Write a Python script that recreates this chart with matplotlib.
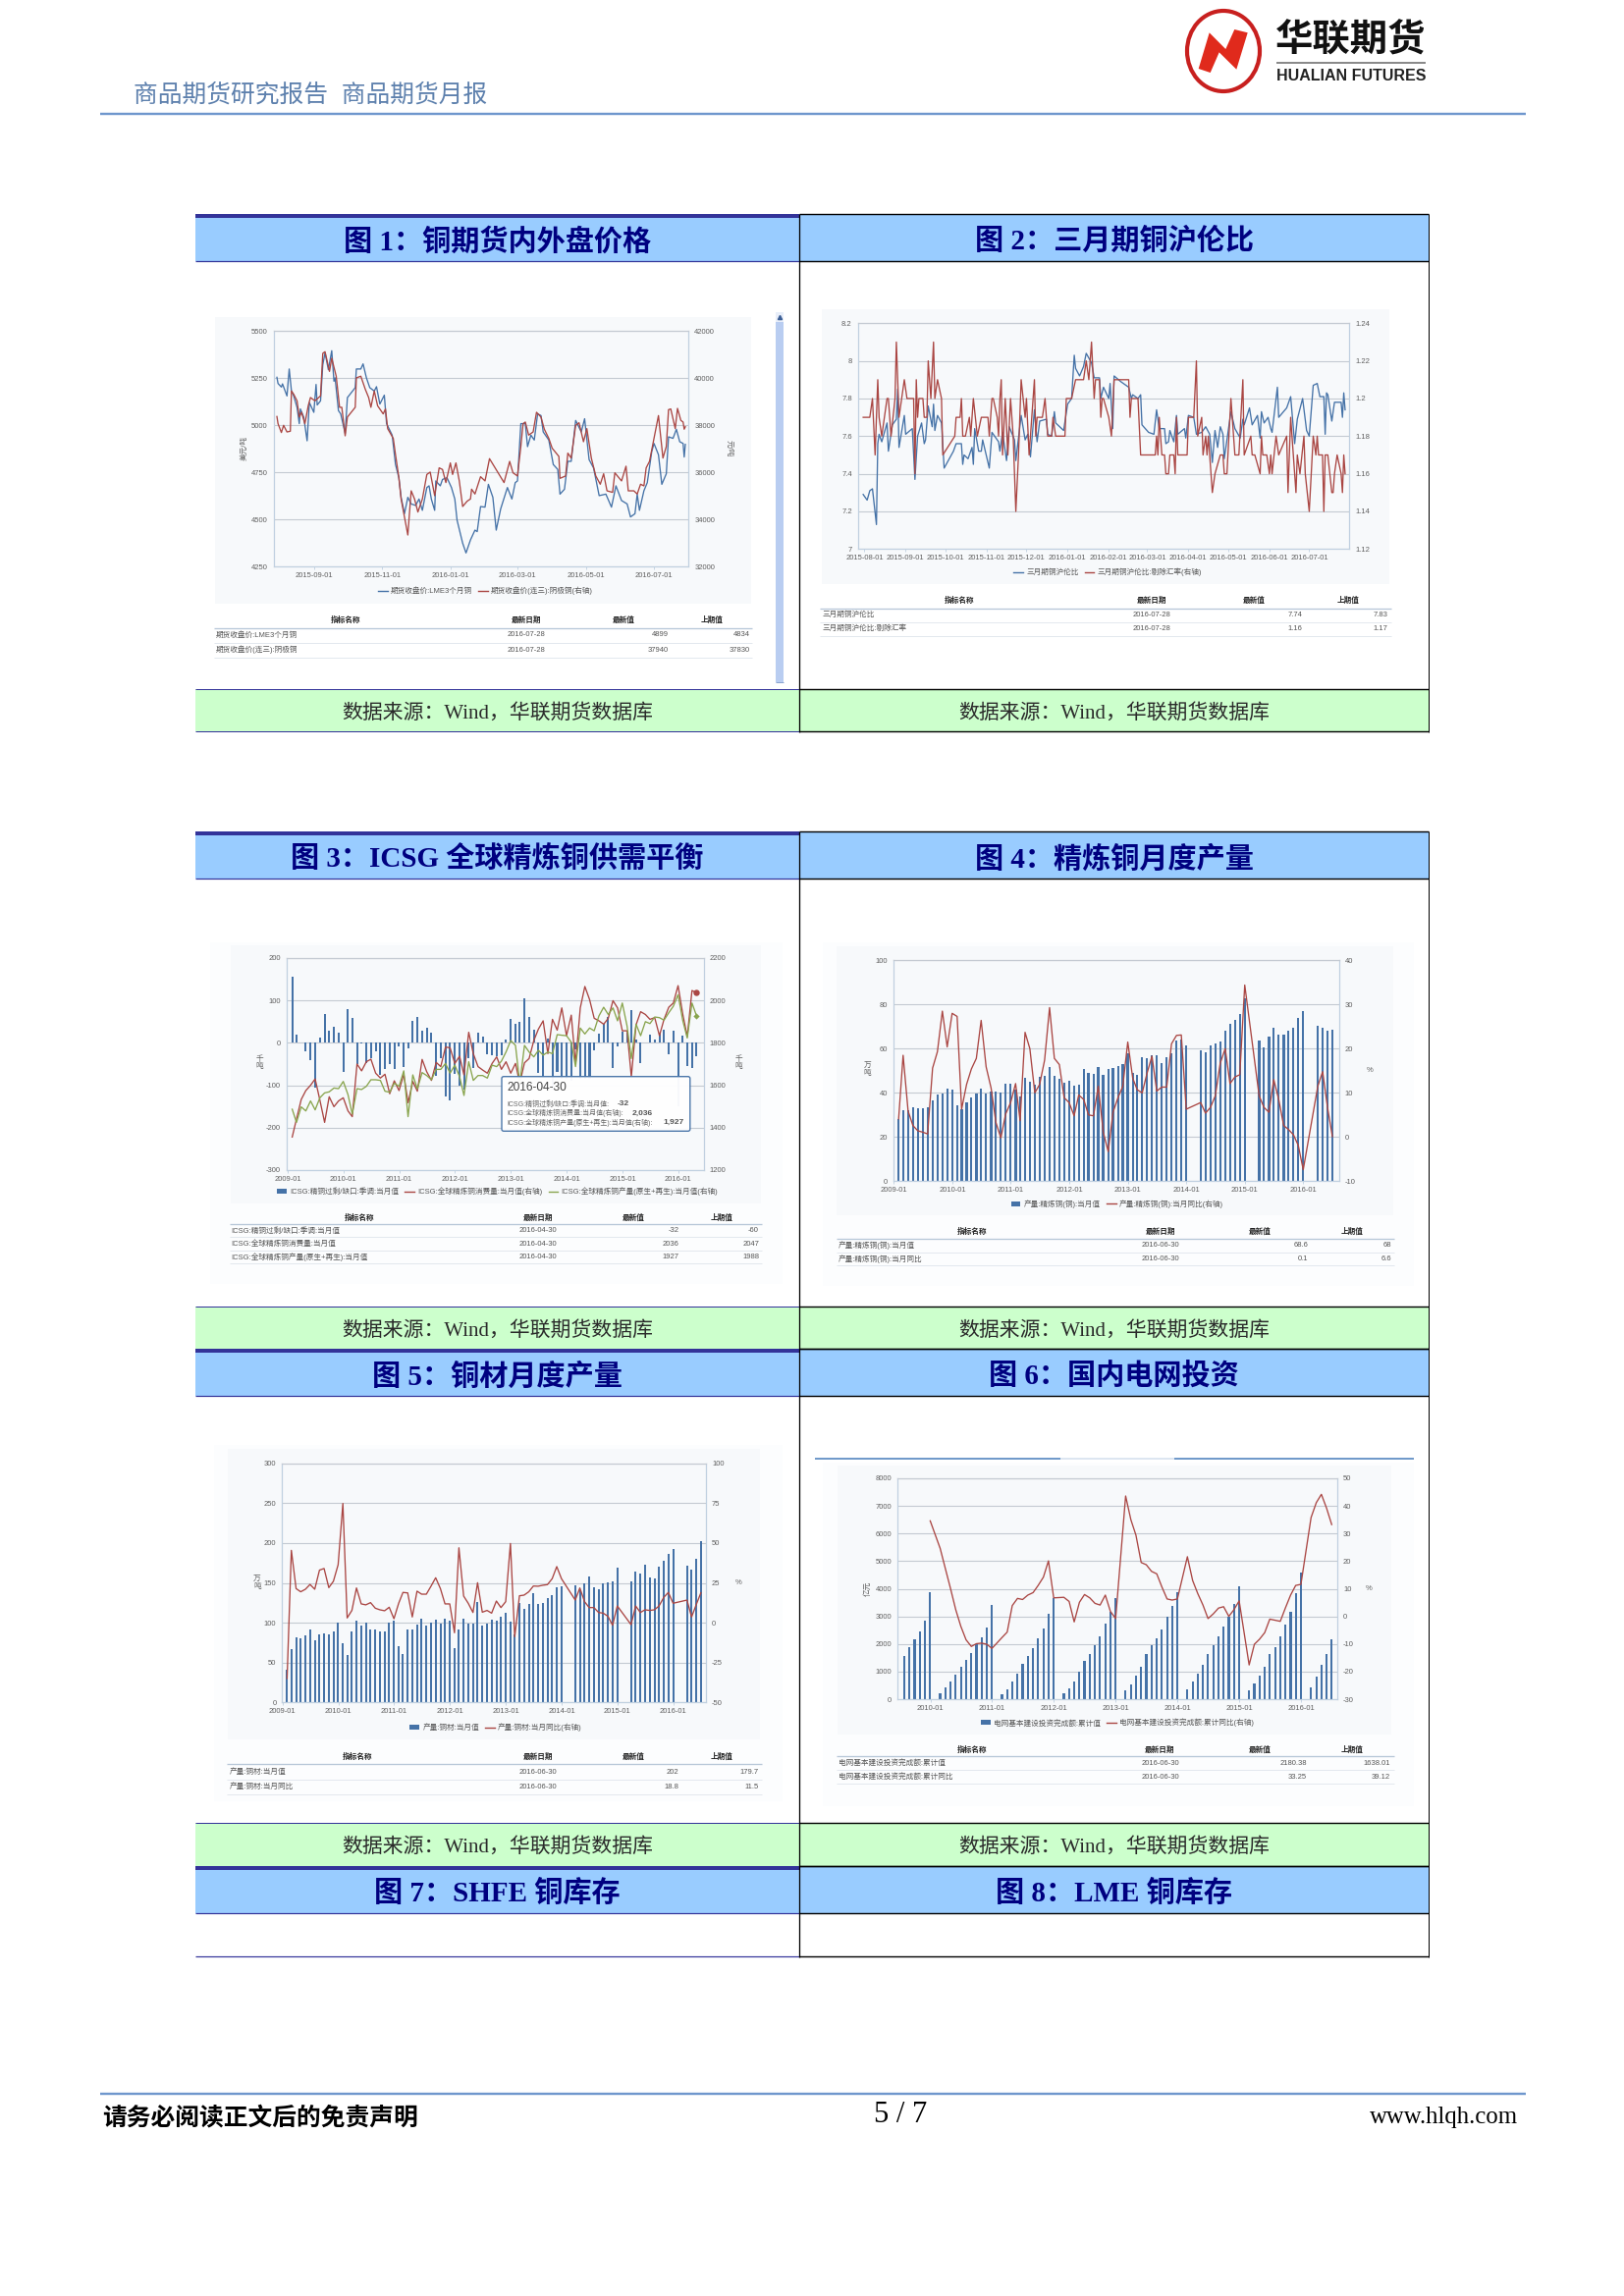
"""
Page 5 of the Hualian Futures monthly report: eight titled cells with six embedded Wind charts.
Everything on the page is placed in pixels of the 1654x2339 page, the chart data stay in data units.
"""
import matplotlib
matplotlib.use('Agg')
import matplotlib.dates as mdates
import matplotlib.pyplot as plt
import numpy as np
import pandas as pd
from matplotlib.lines import Line2D
from matplotlib.patches import Ellipse, FancyBboxPatch, Patch, Polygon, Rectangle

N = np.nan

# Figure 1, days counted from 2015-08-01
lme_days = [-2, -1, 2, 3, 7, 9, 11, 13, 16, 18, 19, 22, 25, 27, 31, 33, 34, 37, 39, 41, 44, 47, 49, 50, 53, 55, 59, 61,
            68, 69, 73, 75, 78, 81, 85, 87, 90, 94, 96, 101, 104, 107, 109, 112, 115, 118, 122, 125, 128, 132, 134,
            136, 139, 140, 144, 146, 150, 154, 157, 159, 164, 167, 171, 175, 177, 180, 184, 187, 191, 194, 198, 204,
            208, 211, 213, 216, 220, 222, 225, 228, 231, 234, 236, 241, 245, 249, 251, 255, 258, 261, 265, 270, 273,
            277, 281, 286, 292, 297, 301, 306, 311, 314, 318, 320, 322, 326, 329, 333, 335, 339, 342, 346, 348, 352,
            355, 358, 361, 362, 363]
lme_close = [5255, 5222, 5203, 5220, 5156, 5299, 5182, 5156, 5095, 5009, 5087, 5043, 4918, 5121, 5069, 5217, 5108, 5130,
             5321, 5385, 5295, 5396, 5234, 5252, 5078, 5061, 4957, 5147, 5200, 5299, 5299, 5326, 5252, 5200, 5182, 5205,
             5113, 5160, 5009, 4948, 4792, 4722, 4618, 4531, 4618, 4583, 4575, 4609, 4549, 4670, 4679, 4609, 4549, 4705,
             4679, 4713, 4722, 4670, 4609, 4497, 4375, 4323, 4392, 4444, 4436, 4569, 4566, 4687, 4618, 4444, 4557, 4670,
             4609, 4696, 4705, 5009, 5009, 4887, 4948, 4922, 5061, 5052, 4965, 4922, 4792, 4766, 4635, 4661, 4809, 4809,
             5026, 4965, 5035, 4818, 4774, 4627, 4635, 4566, 4679, 4601, 4583, 4514, 4531, 4635, 4549, 4653, 4696, 4861,
             4904, 4844, 4687, 4743, 4939, 4931, 4979, 4913, 4904, 4832, 4899]
shfe_days = [-2, -1, 2, 4, 7, 10, 11, 13, 16, 18, 20, 23, 26, 28, 32, 37, 39, 41, 45, 47, 51, 54, 56, 59, 61, 68, 69,
             73, 77, 80, 82, 85, 88, 93, 95, 97, 102, 104, 107, 109, 112, 115, 118, 121, 124, 128, 132, 135, 139, 143,
             146, 149, 153, 155, 158, 161, 164, 168, 171, 172, 175, 180, 184, 188, 193, 201, 206, 209, 213, 216, 218,
             220, 223, 227, 230, 234, 237, 241, 244, 250, 251, 256, 258, 261, 265, 268, 272, 275, 279, 283, 287, 290,
             293, 298, 300, 306, 310, 312, 317, 320, 323, 326, 328, 331, 335, 339, 343, 346, 348, 350, 354, 356, 359,
             361, 362, 363]
shfe_close = [38375, 38070, 37695, 38000, 37720, 37750, 39460, 39320, 39040, 38350, 38555, 38070, 38830, 39180, 39040,
              39250, 41055, 41125, 40290, 40850, 40085, 38765, 38765, 37555, 38350, 38765, 40015, 40085, 39530, 39180,
              38765, 39460, 38830, 38485, 38695, 37860, 37445, 36750, 35780, 34875, 34110, 33345, 35220, 34875, 34320,
              34875, 35915, 36015, 35015, 36195, 36125, 35570, 36405, 35915, 36405, 35640, 34555, 34780, 34875, 35290,
              35085, 35820, 35640, 36585, 36195, 35570, 36470, 35985, 35850, 37100, 38070, 38140, 37585, 37720, 38555,
              38350, 37835, 37445, 37030, 36680, 35750, 35850, 36820, 36610, 38000, 38110, 37305, 37860, 36610, 35850,
              35500, 35945, 35220, 35155, 35985, 35640, 36265, 35220, 35220, 35085, 35500, 35430, 36195, 36470, 37445,
              38415, 36610, 37100, 38665, 38695, 37860, 38720, 38210, 38140, 37835, 37940]

# Figure 2, days counted from 2015-08-01
ratio_days = [-1, 2, 4, 6, 9, 10, 11, 13, 17, 18, 21, 24, 25, 26, 30, 31, 36, 38, 40, 43, 45, 46, 48, 51, 52, 53, 55,
              58, 60, 67, 69, 73, 74, 75, 78, 81, 82, 83, 86, 88, 89, 94, 96, 101, 102, 104, 107, 109, 113, 114, 118,
              121, 123, 125, 128, 130, 132, 137, 138, 141, 143, 144, 150, 153, 156, 158, 159, 162, 165, 167, 171, 173,
              177, 178, 180, 184, 185, 187, 188, 193, 199, 201, 202, 206, 208, 209, 214, 218, 220, 222, 226, 227, 229,
              230, 233, 235, 236, 241, 242, 244, 248, 250, 254, 257, 260, 262, 264, 266, 268, 270, 271, 276, 279, 283,
              285, 286, 290, 292, 296, 298, 299, 301, 304, 306, 307, 311, 312, 318, 321, 324, 326, 330, 333, 335, 338,
              341, 343, 346, 347, 348, 349, 352, 354, 359, 360, 361, 362]
ratio_values = [7.29, 7.26, 7.31, 7.32, 7.13, 7.56, 7.61, 7.57, 7.67, 7.52, 7.66, 7.69, 7.85, 7.54, 7.71, 7.61, 7.64,
                7.37, 7.60, 7.67, 7.56, 7.58, 7.76, 7.65, 7.77, 7.63, 7.71, 7.67, 7.43, 7.52, 7.56, 7.56, 7.45, 7.50,
                7.48, 7.54, 7.45, 7.64, 7.52, 7.52, 7.58, 7.43, 7.62, 7.57, 7.52, 7.62, 7.47, 7.65, 7.58, 7.47, 7.71,
                7.58, 7.61, 7.49, 7.74, 7.57, 7.68, 7.69, 7.61, 7.60, 7.73, 7.67, 7.63, 7.77, 7.80, 8.03, 7.96, 7.92,
                7.97, 8.04, 7.99, 7.91, 7.91, 7.80, 7.86, 7.80, 7.88, 7.64, 7.92, 7.89, 7.86, 7.80, 7.82, 7.80, 7.82,
                7.66, 7.62, 7.61, 7.74, 7.64, 7.64, 7.56, 7.57, 7.63, 7.57, 7.71, 7.61, 7.64, 7.59, 7.71, 7.70, 7.61,
                7.62, 7.65, 7.61, 7.46, 7.63, 7.54, 7.65, 7.61, 7.48, 7.73, 7.64, 7.59, 7.69, 7.66, 7.75, 7.66, 7.71,
                7.59, 7.73, 7.67, 7.70, 7.64, 7.62, 7.86, 7.70, 7.75, 7.81, 7.56, 7.69, 7.80, 7.63, 7.60, 7.87, 7.88,
                7.81, 7.81, 7.61, 7.83, 7.82, 7.68, 7.78, 7.78, 7.70, 7.83, 7.74]
adj_days = [-1, 4, 6, 8, 10, 11, 13, 15, 17, 18, 20, 23, 24, 26, 30, 32, 37, 38, 39, 40, 41, 44, 45, 47, 48, 50, 52, 53,
            55, 58, 59, 68, 69, 72, 73, 74, 76, 79, 80, 82, 85, 88, 93, 94, 96, 97, 100, 101, 102, 103, 104, 106, 108,
            110, 112, 114, 116, 118, 121, 122, 124, 128, 129, 130, 134, 136, 138, 141, 142, 144, 151, 152, 156, 159,
            165, 167, 169, 171, 173, 174, 177, 178, 179, 180, 184, 186, 188, 199, 200, 201, 206, 208, 219, 220, 221,
            222, 224, 226, 227, 229, 230, 233, 234, 235, 236, 243, 244, 248, 250, 251, 254, 255, 257, 258, 259, 262,
            264, 268, 270, 271, 273, 276, 279, 282, 285, 286, 291, 292, 294, 298, 299, 300, 303, 305, 306, 307, 310,
            312, 318, 319, 321, 324, 325, 326, 328, 331, 332, 335, 338, 340, 341, 342, 345, 346, 347, 349, 352, 353,
            354, 356, 359, 360, 361, 362]
adj_values = [1.19, 1.19, 1.20, 1.17, 1.21, 1.19, 1.18, 1.19, 1.20, 1.20, 1.18, 1.20, 1.23, 1.19, 1.21, 1.20, 1.20,
              1.16, 1.21, 1.19, 1.20, 1.20, 1.19, 1.19, 1.22, 1.20, 1.23, 1.20, 1.21, 1.20, 1.17, 1.18, 1.19, 1.19,
              1.20, 1.18, 1.18, 1.19, 1.18, 1.20, 1.18, 1.19, 1.19, 1.18, 1.20, 1.20, 1.19, 1.18, 1.20, 1.21, 1.17,
              1.20, 1.17, 1.20, 1.18, 1.14, 1.17, 1.21, 1.19, 1.20, 1.17, 1.21, 1.18, 1.19, 1.19, 1.20, 1.18, 1.18,
              1.19, 1.18, 1.18, 1.20, 1.20, 1.21, 1.21, 1.22, 1.21, 1.23, 1.20, 1.21, 1.21, 1.19, 1.20, 1.20, 1.19,
              1.18, 1.21, 1.21, 1.19, 1.20, 1.20, 1.17, 1.17, 1.18, 1.17, 1.19, 1.17, 1.17, 1.16, 1.16, 1.17, 1.17,
              1.16, 1.19, 1.17, 1.17, 1.19, 1.19, 1.22, 1.18, 1.19, 1.17, 1.18, 1.17, 1.18, 1.15, 1.16, 1.17, 1.17,
              1.16, 1.16, 1.20, 1.17, 1.17, 1.21, 1.17, 1.18, 1.17, 1.17, 1.16, 1.18, 1.17, 1.17, 1.16, 1.17, 1.16,
              1.18, 1.17, 1.18, 1.15, 1.19, 1.16, 1.15, 1.17, 1.16, 1.18, 1.16, 1.14, 1.18, 1.17, 1.18, 1.17, 1.17,
              1.14, 1.17, 1.17, 1.15, 1.15, 1.16, 1.17, 1.16, 1.15, 1.17, 1.16]

# Figure 3, monthly from 2009-01
icsg_balance = [157, 20, 0, -20, -40, -105, 12, 68, 29, 39, 24, -68, 80, 59, -50, -1, -48, -35, -20, -75, -62, -50, -62,
                -9, -58, -12, 52, 60, 29, 36, 24, -77, -35, -127, -136, -72, -102, -110, -35, -60, 24, 14, -28, -30,
                -32, -30, 8, 56, 45, 50, 105, 61, 31, -70, -80, 11, -110, -68, -85, -85, -90, -15, -85, -85, -85, -18,
                21, 45, 60, -59, -9, 26, 24, 78, 8, -47, 0, 20, 8, 25, 31, -28, 29, -149, 17, -55, -60, -32]
icsg_consumption = [1356, 1441, 1533, 1575, 1600, 1630, 1530, 1425, 1546, 1499, 1526, 1541, 1479, 1452, 1700, 1668,
                    1711, 1723, 1657, 1634, 1652, 1560, 1621, 1575, 1652, 1518, 1618, 1572, 1722, 1664, 1623, 1708,
                    1688, 1780, 1777, 1703, 1737, 1649, 1850, 1749, 1688, 1672, 1657, 1703, 1734, 1675, 1711, 1657,
                    1703, 1610, 1706, 1726, 1811, 1865, 1904, 1749, 1911, 1860, 1965, 1834, 1931, 1703, 1965, 2066,
                    2004, 1916, 1904, 1888, 1916, 1999, 1965, 1857, 1857, 1641, 1885, 1947, 1934, 1911, 1919, 1834,
                    1911, 1968, 1988, 2070, 1934, 1830, 2047, 2036]
icsg_production = [1487, 1425, 1498, 1479, 1526, 1484, 1541, 1564, 1569, 1587, 1584, 1618, 1556, 1464, 1584, 1580, 1595,
                   1626, 1626, 1623, 1572, 1567, 1610, 1595, 1668, 1452, 1649, 1583, 1660, 1646, 1626, 1675, 1675,
                   1703, 1657, 1695, 1641, 1552, 1711, 1623, 1646, 1646, 1634, 1695, 1688, 1714, 1757, 1811, 1788,
                   1610, 1788, 1757, 1734, 1765, 1742, 1757, 1749, 1839, 1836, 1834, 1803, 1688, 1870, 1842, 1870,
                   1857, 1927, 1968, 1934, 1965, 1904, 1988, 1880, 1726, 1888, 1834, 1900, 1891, 1922, 1919, 1907,
                   1942, 1973, 2027, 1904, 1823, 1988, 1927]

# Figure 4, monthly from 2009-01
refined_output = [28, 32, 32, 33.5, 33, 33.2, 33.3, 36.5, 39.3, 39.8, 41.8, 41.5, 34.2, 32.6, 35.6, 37.7, 39.9, 42,
                  39.8, 40.5, 40.5, 40, 44.2, 44.2, 41.5, 38.2, 46.8, 45.2, 43.8, 47.4, 47.5, 51.8, 47.8, 46.5, 44.5,
                  45.5, 43.2, 43.5, 50.8, 48.8, 48.4, 51.8, 48.2, 51, 51.2, 52, 53, 58, 49, 48.2, 56, 55.7, 56.8, 57,
                  53.3, 56, 58, 63.5, 64, 61.4, N, N, 59.3, 58.3, 61.5, 62.2, 63.2, 68, 71.3, 73, 75.6, 83, N, N, 63.8,
                  60.7, 65.3, 69.3, 66.3, 66.4, 68, 69.3, 74, 77.2, N, N, 70.3, 69.3, 68, 68.6]
refined_yoy = [4.1, 18.5, 5.9, 2.6, 1.4, 1.1, 0.7, 15.6, 19.3, 28.5, 20.4, 28, 27.3, 6.3, 11.9, 15.4, 17.8, 26.4, 15.9,
               11.1, 3.3, -0.2, 5.2, 7.8, 12.1, 3.7, 23.7, 20, 10, 11.9, 17.4, 29.3, 17.8, 16.4, 8.9, 7.8, 4.8, 9.5,
               8.5, 5, 4.8, 11.5, 1.1, -3.3, 5.6, 8.9, 11.5, 21.5, 13.3, 10.7, 10, 14.4, 18.3, 10.4, 11.3, 11.3, 21.1,
               23, 23.1, 6.3, N, N, 7.8, 5.4, 6.7, 9.3, 16.7, 20, 12.1, 13.6, 14.1, 34.4, N, N, 9.3, 6.7, 5.6, 13, 8.5,
               2.6, 1.7, 0.5, -1.9, -7.4, N, N, 11.5, 14.8, 6.6, 0.1]

# Figure 5, monthly from 2009-01
copper_products = [41, 67, 82, 81, 84, 92, 78.5, 85, 87, 85, 88.5, 100.5, 74, 59, 88.5, 102, 96.5, 100.5, 92, 92, 89,
                   89, 100, 103, 70, 60.5, 92, 92, 98, 105.5, 96, 100.5, 104, 98.5, 105.5, 103, 67.5, 92, 104.5, 98.5,
                   98.5, 125.5, 96.5, 98.5, 104, 102, 107, 112, 101, 85, 125, 117, 123, 136.5, 123, 125, 131, 134, 145,
                   146, N, N, 147, 141, 150, 158.5, 144, 142, 150, 151, 152, 168.5, N, N, 152, 164, 162, 173, 157, 156,
                   170, 178, 186, 192, N, N, 171, 167, 179.7, 202]
products_yoy = [-35, 45.4, 21.4, 19.4, 21, 24, 21, 33, 34, 22, 26, 36.4, 74.8, 3, 7.7, 21.8, 11.8, 11.2, 12.6, 9.1, 8.1,
                7.5, 9.7, 2.5, 12.2, 19, 18.7, 3.6, 19.8, 17.9, 17.9, 23, 28.2, 21.4, 11.8, 11.8, -6.3, 47, 16.7, 12.2,
                6.4, 25.1, 6.6, 7.7, 6, 13.6, 9.5, 13.2, 49.7, -8.8, 16.9, 17.3, 19.4, 23, 22.9, 23.5, 23.9, 27.6, 35.2,
                27.6, N, N, 14.2, 21.8, 13.2, 9.5, 9.5, 6.4, 6, 4, -1.6, 10.5, N, N, -1.2, 10.5, 6.4, 8.1, 7.7, 8.1,
                10.5, 15.9, 19, 12.2, N, N, 14.2, 3.6, 11.5, 18.8]

# Figure 6, monthly from 2009-07
grid_invest = [1570, 1890, 2180, 2470, 2860, 3890, N, 220, 430, 640, 890, 1190, 1440, 1680, 1990, 2240, 2580, 3430,
               N, 190, 370, 650, 930, 1280, 1550, 1840, 2190, 2560, 3110, 3670,
               N, 210, 400, 640, 1000, 1390, 1650, 1940, 2280, 2750, 3180, 3660,
               N, 310, 540, 840, 1190, 1650, 1940, 2220, 2540, 2970, 3380, 3880,
               N, 370, 640, 920, 1230, 1620, 1950, 2280, 2630, 2970, 3460, 4100,
               N, 310, 580, 840, 1180, 1620, 1900, 2260, 2710, 3180, 3850, 4600,
               N, 430, 820, 1230, 1638.01, 2180.38]
grid_yoy = [N, N, N, N, N, 34.6, N, 24.6, 17.2, 10.1, 2.4, -3.6, -8.5, -10.9, -9.9, -9.7, -10.1, -11.6,
            N, -7.7, -5.7, 3.9, 6.5, 6.1, 7.7, 8.6, 11.2, 14.2, 20.1, 6.7,
            N, 6.9, 5.4, -2, 5.1, 7.9, 6.7, 4.7, 4.1, 7.7, 1.8, -0.8,
            N, 43.6, 35, 29.4, 19.5, 18.7, 16.3, 15.4, 10.7, 6.3, 5.9, 6.3,
            N, 21.6, 13, 8.3, 4.1, -0.8, 0.9, 3, 3.5, 0, 2.4, 5.6,
            N, -17.6, -10.1, -8.3, -5.9, -1, -1.4, -1.8, 3, 7.7, 11.2, 11.6,
            N, 35.8, 41.2, 44.2, 39.12, 33.25]

# Axis ticks
year_ticks = ['2009-01', '2010-01', '2011-01', '2012-01', '2013-01', '2014-01', '2015-01', '2016-01']
p1_ticks = ['2015-09-01', '2015-11-01', '2016-01-01', '2016-03-01', '2016-05-01', '2016-07-01']
p2_ticks = ['2015-08-01', '2015-09-01', '2015-10-01', '2015-11-01', '2015-12-01', '2016-01-01', '2016-02-01',
            '2016-03-01', '2016-04-01', '2016-05-01', '2016-06-01', '2016-07-01']
p1_left = [4250, 4500, 4750, 5000, 5250, 5500]
p1_right = [32000, 34000, 36000, 38000, 40000, 42000]
p2_left = [7, 7.2, 7.4, 7.6, 7.8, 8, 8.2]
p2_left_labels = ['7', '7.2', '7.4', '7.6', '7.8', '8', '8.2']
p2_right = [1.12, 1.14, 1.16, 1.18, 1.2, 1.22, 1.24]
p2_right_labels = ['1.12', '1.14', '1.16', '1.18', '1.2', '1.22', '1.24']
p3_left = [-300, -200, -100, 0, 100, 200]
p3_right = [1200, 1400, 1600, 1800, 2000, 2200]
p4_left = [0, 20, 40, 60, 80, 100]
p4_right = [-10, 0, 10, 20, 30, 40]
p5_left = [0, 50, 100, 150, 200, 250, 300]
p5_right = [-50, -25, 0, 25, 50, 75, 100]
p6_left = [0, 1000, 2000, 3000, 4000, 5000, 6000, 7000, 8000]
p6_right = [-30, -20, -10, 0, 10, 20, 30, 40, 50]

# Table text under each chart
table_head = ['指标名称', '最新日期', '最新值', '上期值']
p1_rows = [['期货收盘价:LME3个月铜', '2016-07-28', '4899', '4834'],
           ['期货收盘价(连三):阴极铜', '2016-07-28', '37940', '37830']]
p2_rows = [['三月期铜沪伦比', '2016-07-28', '7.74', '7.83'],
           ['三月期铜沪伦比:剔除汇率', '2016-07-28', '1.16', '1.17']]
p3_rows = [['ICSG:精铜过剩/缺口:季调:当月值', '2016-04-30', '-32', '-60'],
           ['ICSG:全球精炼铜消费量:当月值', '2016-04-30', '2036', '2047'],
           ['ICSG:全球精炼铜产量(原生+再生):当月值', '2016-04-30', '1927', '1988']]
p4_rows = [['产量:精炼铜(铜):当月值', '2016-06-30', '68.6', '68'],
           ['产量:精炼铜(铜):当月同比', '2016-06-30', '0.1', '6.6']]
p5_rows = [['产量:铜材:当月值', '2016-06-30', '202', '179.7'],
           ['产量:铜材:当月同比', '2016-06-30', '18.8', '11.5']]
p6_rows = [['电网基本建设投资完成额:累计值', '2016-06-30', '2180.38', '1638.01'],
           ['电网基本建设投资完成额:累计同比', '2016-06-30', '33.25', '39.12']]

titles = ['图 1：铜期货内外盘价格', '图 2：三月期铜沪伦比', '图 3：ICSG 全球精炼铜供需平衡', '图 4：精炼铜月度产量',
          '图 5：铜材月度产量', '图 6：国内电网投资', '图 7：SHFE 铜库存', '图 8：LME 铜库存']
source_text = '数据来源：Wind，华联期货数据库'

W, H = 1654, 2339
BLUE, RED, GREEN = '#4572a7', '#aa4643', '#89a54e'
GRID, AXIS, TICK_TEXT = '#c4cad2', '#c0d0e0', '#5f5f5f'
PANEL = '#f7f9fb'
SANS = ['Liberation Sans', 'Noto Sans CJK SC']
SERIF = ['Liberation Serif', 'Noto Sans CJK SC']
SMALL = 5.5

plt.rcParams['font.family'] = SANS
plt.rcParams['axes.unicode_minus'] = False

fig = plt.figure(figsize=(W / 100, H / 100), dpi=100, facecolor='white')


def overlay(zorder):
    """An invisible axes over the whole page, its data units are page pixels."""
    layer = fig.add_axes([0, 0, 1, 1], zorder=zorder)
    layer.set_xlim(0, W)
    layer.set_ylim(H, 0)
    layer.axis('off')
    return layer


page = overlay(0)
top = overlay(5)


def box(layer, x0, y0, x1, y1, color, zorder=1):
    layer.add_patch(Rectangle((x0, y0), x1 - x0, y1 - y0, facecolor=color, edgecolor='none', zorder=zorder))


def hline(layer, y, x0, x1, color, width_px):
    layer.plot([x0, x1], [y, y], color=color, lw=width_px * 0.72, solid_capstyle='butt', zorder=3)


def vline(layer, x, y0, y1, color, width_px):
    layer.plot([x, x], [y0, y1], color=color, lw=width_px * 0.72, solid_capstyle='butt', zorder=3)


def date_num(values):
    return mdates.date2num(pd.to_datetime(values).values)


def day_num(days):
    return mdates.date2num(np.datetime64('2015-08-01')) + np.array(days, dtype=float)


def month_ends(start, count):
    return date_num(pd.date_range(start, periods=count, freq='ME'))


def chart(rect, xlim, x_ticks, x_labels, left, right, left_labels=None, right_labels=None):
    """Two y axes sharing a date axis; rect is given in page pixels as x0, y0, x1, y1."""
    x0, y0, x1, y1 = rect
    ax = fig.add_axes([x0 / W, 1 - y1 / H, (x1 - x0) / W, (y1 - y0) / H], zorder=2)
    ax.patch.set_alpha(0)
    ax.set_xlim(date_num(xlim))
    ax.set_ylim(left[0], left[-1])
    ax.set_yticks(left)
    ax.set_yticklabels(left_labels or [str(v) for v in left])
    ax.set_xticks(x_ticks)
    ax.set_xticklabels(x_labels)
    ax.grid(axis='y', color=GRID, lw=0.8)
    ax.set_axisbelow(True)
    ax.tick_params(axis='y', length=0, pad=4.3, labelsize=SMALL, labelcolor=TICK_TEXT)
    ax.tick_params(axis='x', length=2.2, width=0.6, color=AXIS, pad=1.8, labelsize=SMALL, labelcolor=TICK_TEXT)

    twin = ax.twinx()
    twin.patch.set_alpha(0)
    twin.set_ylim(right[0], right[-1])
    twin.set_yticks(right)
    twin.set_yticklabels(right_labels or [str(v) for v in right])
    twin.tick_params(axis='y', length=0, pad=4.3, labelsize=SMALL, labelcolor=TICK_TEXT)
    for axis in (ax, twin):
        for side in axis.spines.values():
            side.set_color(AXIS)
            side.set_linewidth(0.8)
        axis.spines['top'].set_color(GRID)
    return ax, twin


def plot_gaps(axis, x, y, color):
    """Line across the empty months, so the missing values are skipped and not broken."""
    values = np.array(y, dtype=float)
    keep = ~np.isnan(values)
    axis.plot(np.array(x)[keep], values[keep], color=color, lw=0.95)


def legend(axis, handles, cx, cy):
    axis.legend(handles=handles, loc='center', bbox_to_anchor=(cx / W, 1 - cy / H), bbox_transform=fig.transFigure,
                ncol=len(handles), frameon=False, fontsize=SMALL, labelcolor='#555555', handlelength=1.3,
                handletextpad=0.4, columnspacing=0.8, borderpad=0)


def bar_key(label):
    return Patch(facecolor=BLUE, label=label)


def line_key(label, color):
    return Line2D([], [], color=color, lw=1, label=label)


def table(rows, x0, x1, col_x, y_head, y_rule, row_h):
    """Data table below a chart. col_x holds name head, date, value head, previous head, left, value and prev edge."""
    name_c, date_c, val_c, prev_c, left_x, val_r, prev_r = col_x
    for text, cx in zip(table_head, (name_c, date_c, val_c, prev_c)):
        page.text(cx, y_head, text, ha='center', va='center', fontsize=SMALL, fontweight='bold', color='#222222')
    hline(page, y_rule, x0, x1, '#b7c7d8', 1.3)
    for i, row in enumerate(rows):
        cy = y_rule + row_h * (i + 0.5)
        page.text(left_x, cy, row[0], ha='left', va='center', fontsize=SMALL, color='#555555')
        page.text(date_c, cy, row[1], ha='center', va='center', fontsize=SMALL, color='#555555')
        page.text(val_r, cy, row[2], ha='right', va='center', fontsize=SMALL, color='#555555')
        page.text(prev_r, cy, row[3], ha='right', va='center', fontsize=SMALL, color='#555555')
        hline(page, y_rule + row_h * (i + 1), x0, x1, '#e3e8ee', 1)


def axis_name(x, y, text, rotation=90):
    page.text(x, y, text, ha='center', va='center', fontsize=SMALL, color=TICK_TEXT, rotation=rotation,
              linespacing=0.95, zorder=4)


# Running head and logo
page.text(135.5, 97, '商品期货研究报告  商品期货月报', fontsize=17.8, color='#5d80ad', va='center', ha='left')
hline(page, 115.5, 102, 1554, '#6f97cd', 2.4)
page.add_patch(Ellipse((1246, 52), 74, 82, facecolor='white', edgecolor='#c8201f', lw=3, zorder=2))
page.add_patch(Polygon([(1220.7, 70), (1231.7, 33.3), (1248.3, 50), (1257.3, 30), (1270.7, 33.3), (1259.3, 70.7),
                        (1241.7, 53.3), (1232.7, 74)], closed=True, facecolor='#e02a1c', edgecolor='none', zorder=3))
page.text(1376, 41, '华联期货', fontsize=27.6, fontweight='bold', color='#111111', ha='center', va='center',
          fontfamily='Noto Sans CJK SC')
hline(page, 64, 1300, 1452, '#8a8a8a', 2)
page.text(1376, 77, 'HUALIAN FUTURES', fontsize=11.5, fontweight='bold', color='#222222', ha='center', va='center')

# Table of cells on the page
LEFT, MID, RIGHT = 198.7, 814.3, 1455
HEAD = '#99ccff'
SOURCE = '#ccffcc'
NAVY = '#333399'
head_rows = [(218, 266), (847, 895.3), (1374.3, 1422.3), (1901, 1949.3)]
source_rows = [(701.7, 745.3), (1330.7, 1374.3), (1857, 1901)]
bottom_y = 1993.3

for row, (y0, y1) in enumerate(head_rows):
    box(page, LEFT, y0, RIGHT, y1, HEAD)
    box(page, LEFT, y0, MID, y0 + 4, NAVY, zorder=2)
    hline(page, y0, MID, RIGHT, 'black', 1.4)
    hline(page, y1, LEFT, MID, NAVY, 1.2)
    hline(page, y1, MID, RIGHT, 'black', 1.4)
    page.text((LEFT + MID) / 2, (y0 + y1) / 2 + 4, titles[row * 2], fontsize=21, fontweight='bold', color='#000080',
              ha='center', va='center', fontfamily=SERIF, zorder=4)
    page.text((MID + RIGHT) / 2, (y0 + y1) / 2 + 4, titles[row * 2 + 1], fontsize=21, fontweight='bold',
              color='#000080', ha='center', va='center', fontfamily=SERIF, zorder=4)
for y0, y1 in source_rows:
    box(page, LEFT, y0, RIGHT, y1, SOURCE)
    hline(page, y0, LEFT, MID, NAVY, 1)
    hline(page, y0, MID, RIGHT, 'black', 1.4)
    hline(page, y1, LEFT, MID, NAVY, 1)
    hline(page, y1, MID, RIGHT, 'black', 1.4)
    for cx in ((LEFT + MID) / 2, (MID + RIGHT) / 2):
        page.text(cx, (y0 + y1) / 2 + 3, source_text, fontsize=15, color='#2a2a2a', ha='center', va='center',
                  fontfamily=SERIF, zorder=4)
hline(page, bottom_y, LEFT, MID, NAVY, 1.2)
hline(page, bottom_y, MID, RIGHT, 'black', 1.4)
for y0, y1 in ((218, 746), (847, bottom_y + 1)):
    vline(page, MID, y0, y1, 'black', 1.3)
    vline(page, RIGHT, y0, y1, 'black', 1)

# Footer
hline(page, 2133, 102, 1554, '#6f97cd', 2.4)
page.text(104, 2157, '请务必阅读正文后的免责声明', fontsize=17.8, fontweight='bold', color='black', va='center', ha='left')
page.text(917, 2155, '5 / 7', fontsize=22, color='black', va='center', ha='center', fontfamily='Liberation Serif')
page.text(1546, 2157, 'www.hlqh.com', fontsize=17.8, color='black', va='center', ha='right',
          fontfamily='Liberation Serif')

# Pale grounds behind the pasted screenshots
for rect in ((214, 960, 797, 1308), (838, 960, 1440, 1310), (218, 1472, 797, 1835), (838, 1490, 1440, 1840)):
    box(page, rect[0], rect[1], rect[2], rect[3], '#fcfdfe')
for rect in ((218.6, 322.7, 764.7, 615), (837.3, 315, 1414.5, 595), (234.8, 962.7, 775, 1226),
             (851.9, 964, 1419, 1238.3), (232.4, 1476, 774, 1771.7), (853.3, 1492.7, 1417, 1766.7)):
    box(page, rect[0], rect[1], rect[2], rect[3], PANEL, zorder=1.5)

# Scrollbar next to figure 1
box(page, 790, 318, 798, 695, '#b9cdf1', zorder=2)
box(page, 790, 318, 798, 328, '#e8eef9', zorder=2)
page.plot(794, 323, marker='^', ms=3, color='#3c5f96', zorder=3)
hline(page, 695, 790, 798, '#8aa4cf', 1)

# Figure 1
ax, twin = chart((278.6, 337.3, 701.4, 577.3), ['2015-07-27', '2016-08-01'], date_num(p1_ticks), p1_ticks,
                 p1_left, p1_right)
ax.plot(day_num(lme_days), lme_close, color=BLUE, lw=0.95)
twin.plot(day_num(shfe_days), shfe_close, color=RED, lw=0.95)
legend(twin, [line_key('期货收盘价:LME3个月铜', BLUE), line_key('期货收盘价(连三):阴极铜(右轴)', RED)], 494.5, 602)
axis_name(249, 456.7, '美元/吨')
axis_name(741.8, 456.7, '元/吨', rotation=270)
table(p1_rows, 217.8, 766.3, (352, 536, 635, 725.5, 219.8, 681, 763.5), 632, 639.5, 15)

# Figure 2
ax, twin = chart((873.7, 329.3, 1374, 559.3), ['2015-07-27', '2016-07-31'], date_num(p2_ticks), p2_ticks,
                 p2_left, p2_right, p2_left_labels, p2_right_labels)
ax.plot(day_num(ratio_days), ratio_values, color=BLUE, lw=0.95)
twin.plot(day_num(adj_days), adj_values, color=RED, lw=0.95)
legend(twin, [line_key('三月期铜沪伦比', BLUE), line_key('三月期铜沪伦比:剔除汇率(右轴)', RED)], 1128, 583)
table(p2_rows, 835, 1416.5, (977, 1172.9, 1277, 1373, 837, 1326, 1413.7), 612, 619.5, 14)

# Figure 3
months = month_ends('2009-01-31', 88)
ax, twin = chart((291.7, 976, 716.6, 1192), ['2008-12-24', '2016-06-15'], date_num(year_ticks), year_ticks,
                 p3_left, p3_right)
ax.bar(months, icsg_balance, width=13, color=BLUE)
twin.plot(months, icsg_consumption, color=RED, lw=0.95)
twin.plot(months, icsg_production, color=GREEN, lw=0.95)
twin.plot(months[-1], icsg_consumption[-1], 'o', color=RED, ms=4.6, mec='none')
twin.plot(months[-1], icsg_production[-1], 'D', color=GREEN, ms=3.2, mec='none')
legend(twin, [bar_key('ICSG:精铜过剩/缺口:季调:当月值'), line_key('ICSG:全球精炼铜消费量:当月值(右轴)', RED),
              line_key('ICSG:全球精炼铜产量(原生+再生):当月值(右轴)', GREEN)], 506.7, 1214)
axis_name(264, 1083, '千\n吨', rotation=0)
axis_name(752, 1083, '千\n吨', rotation=0)
table(p3_rows, 233.6, 776, (366, 547.8, 645.5, 734.8, 235.6, 691.3, 773), 1240.7, 1247, 13.4)

# Tooltip over figure 3
top.add_patch(FancyBboxPatch((511, 1096.7), 191.8, 55.6, boxstyle='round,pad=0,rounding_size=2', facecolor='white',
                             edgecolor=BLUE, lw=1, alpha=0.96))
top.text(516.2, 1107.7, '2016-04-30', fontsize=8.6, color='#444444', ha='left', va='center')
tip_names = ['ICSG:精铜过剩/缺口:季调:当月值:', 'ICSG:全球精炼铜消费量:当月值(右轴):', 'ICSG:全球精炼铜产量(原生+再生):当月值(右轴):']
tip_values = ['-32', '2,036', '1,927']
for text, value, line_y, value_x in zip(tip_names, tip_values, (1125, 1134.3, 1143.7), (629, 643.5, 675)):
    top.text(516, line_y, text, fontsize=5, color='#666666', ha='left', va='center')
    top.text(value_x, line_y, value, fontsize=6, fontweight='bold', color='#555555', ha='left', va='center')

# Figure 4
months = month_ends('2009-01-31', 90)
ax, twin = chart((910, 978.3, 1363.7, 1203.3), ['2008-12-30', '2016-08-10'], date_num(year_ticks), year_ticks,
                 p4_left, p4_right)
ax.bar(months, refined_output, width=14, color=BLUE)
plot_gaps(twin, months, refined_yoy, RED)
legend(twin, [bar_key('产量:精炼铜(铜):当月值'), line_key('产量:精炼铜(铜):当月同比(右轴)', RED)], 1137.6, 1226.7)
axis_name(883.5, 1090, '万\n吨', rotation=0)
axis_name(1395, 1090, '%', rotation=0)
table(p4_rows, 852, 1420, (990, 1181.5, 1283.5, 1377.5, 853.8, 1332, 1417), 1255, 1261.7, 13.8)

# Figure 5
ax, twin = chart((287.4, 1490.7, 719, 1734.3), ['2008-12-30', '2016-08-02'], date_num(year_ticks), year_ticks,
                 p5_left, p5_right)
ax.bar(months, copper_products, width=13, color=BLUE)
plot_gaps(twin, months, products_yoy, RED)
legend(twin, [bar_key('产量:铜材:当月值'), line_key('产量:铜材:当月同比(右轴)', RED)], 505, 1760)
axis_name(262, 1612.7, '万\n吨', rotation=0)
axis_name(752, 1612.7, '%', rotation=0)
table(p5_rows, 230.8, 776, (364, 547.8, 645.5, 734.8, 233.6, 691.3, 773), 1790, 1797.3, 15.5)

# Figure 6
months = month_ends('2009-07-31', 84)
ax, twin = chart((914.3, 1506, 1362, 1731), ['2009-06-22', '2016-08-02'], date_num(year_ticks[1:]), year_ticks[1:],
                 p6_left, p6_right)
ax.bar(months, grid_invest, width=12.5, color=BLUE)
plot_gaps(twin, months, grid_yoy, RED)
legend(twin, [bar_key('电网基本建设投资完成额:累计值'), line_key('电网基本建设投资完成额:累计同比(右轴)', RED)], 1138, 1755)
axis_name(883.4, 1618, '亿元')
axis_name(1394, 1618, '%', rotation=0)
table(p6_rows, 852, 1419.6, (990.6, 1181.4, 1283, 1377, 854, 1331, 1416), 1782.7, 1789.3, 14)
hline(page, 1486, 830, 1080, '#4f81bd', 1.6)
hline(page, 1486, 1080, 1195.5, '#d5e0ee', 1.6)
hline(page, 1486, 1195.5, 1439.6, '#4f81bd', 1.6)

fig.savefig('out.png', dpi=100)
